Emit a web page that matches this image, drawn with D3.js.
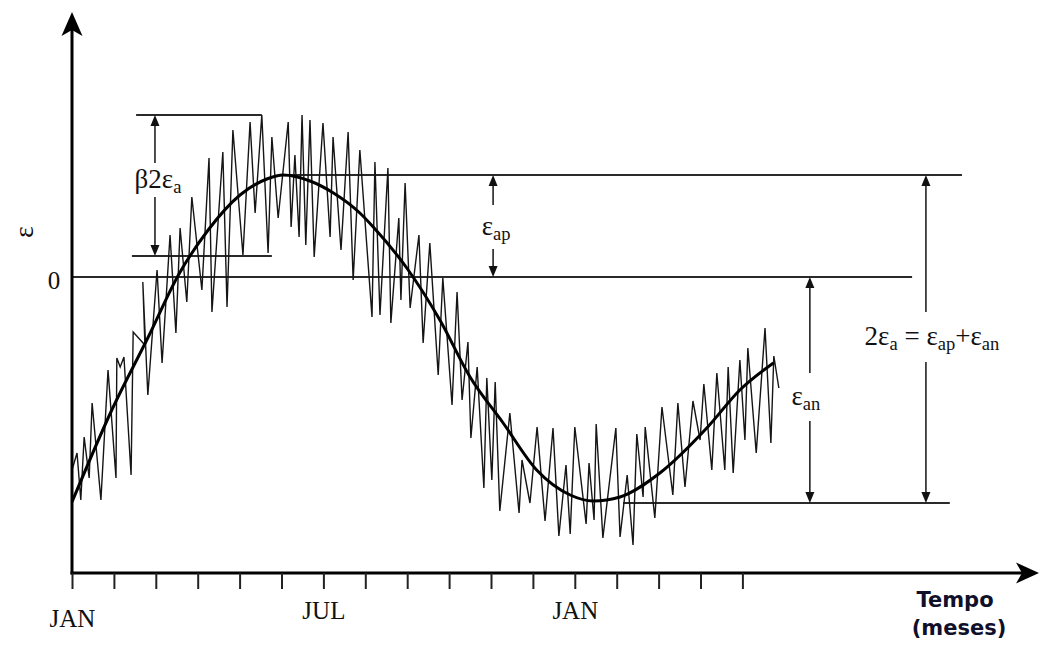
<!DOCTYPE html>
<html>
<head>
<meta charset="utf-8">
<script src="https://cdn.jsdelivr.net/npm/d3@7/dist/d3.min.js"></script>
<style>
    body { margin: 0; background: #fff; }
    #chart-view { width: 1040px; height: 651px; }
    text { font-family: "Liberation Serif", "DejaVu Serif", serif; fill: #111; }
    .axis-title { font-family: "DejaVu Sans", "Liberation Sans", sans-serif; font-weight: bold; fill: #10102a; }
</style>
</head>
<body>
<div id="chart-view"></div>
<script>
// x axis: months from the first January
var monthTicks = d3.range(0, 17);
var monthLabels = ["JAN", "", "", "", "", "", "JUL", "", "", "", "", "", "JAN", "", "", "", ""];

// smooth seasonal strain (mean curve)
var meanMonths = [0, 0.95, 1.82, 2.54, 3.25, 4.01, 4.65, 5.04, 5.68, 6.24, 6.87, 7.19, 7.99, 8.78,
    9.50, 10.29, 11.09, 11.89, 12.44, 13.08, 14.03, 15.15, 15.94, 16.74];
var meanValues = [-22.5, -13.3, -6.0, 0.2, 4.7, 8.2, 9.8, 10.2, 9.6, 8.4, 6.4, 5.0, 0.9, -4.3,
    -10.0, -14.6, -19.3, -21.8, -22.4, -22.0, -19.6, -15.1, -11.3, -8.6];

// daily strain (the zigzag)
var dailyMonths = [0.00, 0.12, 0.21, 0.29, 0.41, 0.48, 0.69, 0.86, 1.05, 1.07, 1.15, 1.24, 1.41, 1.46,
    1.74, 1.69, 1.81, 2.03, 2.15, 2.34, 2.48, 2.58, 2.74, 2.86, 3.10, 3.27, 3.34, 3.60, 3.70, 3.84,
    4.08, 4.25, 4.37, 4.53, 4.68, 4.77, 4.92, 5.16, 5.23, 5.32, 5.42, 5.49, 5.58, 5.68, 5.78, 5.99,
    6.16, 6.23, 6.42, 6.59, 6.71, 6.87, 7.16, 7.23, 7.35, 7.54, 7.61, 7.80, 7.85, 7.95, 8.07, 8.28,
    8.38, 8.54, 8.74, 8.85, 9.07, 9.19, 9.31, 9.45, 9.52, 9.67, 9.83, 9.90, 10.02, 10.10, 10.21,
    10.45, 10.67, 10.74, 10.93, 11.10, 11.29, 11.48, 11.62, 11.79, 11.89, 12.00, 12.27, 12.34,
    12.46, 12.51, 12.67, 12.98, 13.08, 13.25, 13.39, 13.48, 13.63, 13.68, 13.91, 14.08, 14.34,
    14.46, 14.63, 14.82, 14.99, 15.08, 15.27, 15.39, 15.58, 15.66, 15.78, 15.94, 16.06, 16.13,
    16.33, 16.54, 16.68, 16.75, 16.87];
var dailyValues = [-19.3, -17.6, -22.3, -16.0, -20.1, -12.6, -22.3, -9.3, -20.1, -8.1, -9.0, -8.0, -19.8, -5.5,
    -6.8, -0.5, -11.8, 0.7, -8.6, 4.2, -5.6, 4.9, -2.5, 8.0, -1.3, 11.9, -3.5, 12.5, -3.0, 14.7,
    2.2, 15.5, 6.4, 16.2, 2.4, 14.0, 5.9, 15.5, 5.0, 12.2, 4.0, 16.2, 3.2, 15.7, 2.0, 15.4,
    4.0, 14.0, 2.7, 14.5, -0.3, 12.7, -4.0, 11.5, -3.8, 10.9, -4.6, 5.9, -2.3, 9.4, -3.1, 4.2,
    -6.6, 3.4, -9.8, -0.1, -12.8, -1.5, -12.3, -6.5, -16.1, -9.0, -21.1, -10.1, -20.3, -10.5, -23.4,
    -13.6, -23.6, -18.3, -22.6, -15.0, -24.4, -15.1, -25.9, -18.8, -25.7, -15.0, -24.7, -18.6,
    -24.3, -14.7, -26.1, -15.1, -26.0, -19.8, -26.8, -15.7, -22.0, -15.0, -24.1, -13.0, -21.8,
    -12.6, -21.0, -12.4, -16.3, -10.7, -19.3, -9.6, -19.3, -9.0, -19.6, -8.3, -16.3, -7.1,
    -17.6, -5.1, -16.6, -7.9, -11.1];

// horizontal reference levels: value, first month, last month
var refValues = [10.2, 0, -22.6, 16.2, 2.1];
var refStart = [5.1, 0, 13.15, 1.53, 1.43];
var refEnd = [21.24, 20.05, 20.95, 4.53, 4.77];

// dimension arrows: month, from value, to value, label
var dimMonths = [1.98, 10.05, 17.61, 20.38];
var dimFrom = [16.2, 10.2, 0, 10.2];
var dimTo = [2.1, 0, -22.6, -22.6];
var dimLabels = [
    [["\u03B22\u03B5", 0], ["a", 1]],
    [["\u03B5", 0], ["ap", 1]],
    [["\u03B5", 0], ["an", 1]],
    [["2\u03B5", 0], ["a", 1], [" = \u03B5", 0], ["ap", 1], ["+\u03B5", 0], ["an", 1]]
];

/**
 * Chart with the seasonal strain cycle and its dimension marks
 */
function StrainChart() {
    var self = this;
    self.init();
}

StrainChart.prototype.init = function() {
    var self = this;
    self.width = 1040;
    self.height = 651;

    self.svg = d3.select("#chart-view").append("svg")
        .attr("width", self.width)
        .attr("height", self.height);

    self.x = d3.scaleLinear().domain([0, 16]).range([72, 742.4]);
    self.y = d3.scaleLinear().domain([-29.6, 26.4]).range([573, 13]);

    self.drawLevels();
    self.drawSeries();
    self.drawDimensions();
    self.drawAxes();
};

StrainChart.prototype.drawLevels = function() {
    var self = this;
    self.svg.append("g").selectAll("line")
        .data(refValues)
        .enter().append("line")
        .attr("x1", function(d, i) { return self.x(refStart[i]); })
        .attr("x2", function(d, i) { return self.x(refEnd[i]); })
        .attr("y1", function(d) { return self.y(d); })
        .attr("y2", function(d) { return self.y(d); })
        .attr("stroke", "#2a2a2a")
        .attr("stroke-width", 1.8);
};

StrainChart.prototype.drawSeries = function() {
    var self = this;
    var daily = dailyMonths.map(function(m, i) { return [m, dailyValues[i]]; });
    var mean = meanMonths.map(function(m, i) { return [m, meanValues[i]]; });

    var zig = d3.line()
        .x(function(d) { return self.x(d[0]); })
        .y(function(d) { return self.y(d[1]); });

    self.svg.append("path")
        .attr("d", zig(daily))
        .attr("fill", "none")
        .attr("stroke", "#151515")
        .attr("stroke-width", 1.4)
        .attr("stroke-linejoin", "miter");

    var smooth = d3.line()
        .curve(d3.curveMonotoneX)
        .x(function(d) { return self.x(d[0]); })
        .y(function(d) { return self.y(d[1]); });

    self.svg.append("path")
        .attr("d", smooth(mean))
        .attr("fill", "none")
        .attr("stroke", "#000")
        .attr("stroke-width", 3);
};

// writes a label made of normal and subscript parts
StrainChart.prototype.richText = function(g, parts, x, y, size, subSize) {
    var t = g.append("text")
        .attr("x", x)
        .attr("y", y)
        .attr("text-anchor", "middle")
        .style("font-size", size + "px");
    var down = false;
    parts.forEach(function(p) {
        var dy = 0;
        if (p[1] && !down) { dy = 5; down = true; }
        else if (!p[1] && down) { dy = -5; down = false; }
        t.append("tspan")
            .attr("dy", dy)
            .style("font-size", (p[1] ? subSize : size) + "px")
            .text(p[0]);
    });
    return t;
};

StrainChart.prototype.drawDimensions = function() {
    var self = this;
    var g = self.svg.append("g");
    // label centre (pixels from arrow), half gap around label
    var labelDx = [3, 3, -4, 6];
    var labelY = [180, 227, 397, 337];
    var gapHalf = [17, 22, 24, 25];

    function head(x, y, dir) {
        g.append("path")
            .attr("d", "M" + x + "," + y + "L" + (x - 4.5) + "," + (y + dir * 11) +
                "L" + (x + 4.5) + "," + (y + dir * 11) + "Z")
            .attr("fill", "#111");
    }

    dimMonths.forEach(function(m, i) {
        var x = self.x(m);
        var y1 = self.y(dimFrom[i]);
        var y2 = self.y(dimTo[i]);
        var c = labelY[i];
        g.append("line").attr("x1", x).attr("x2", x)
            .attr("y1", y1 + 6).attr("y2", c - gapHalf[i])
            .attr("stroke", "#222").attr("stroke-width", 1.6);
        g.append("line").attr("x1", x).attr("x2", x)
            .attr("y1", c + gapHalf[i]).attr("y2", y2 - 6)
            .attr("stroke", "#222").attr("stroke-width", 1.6);
        head(x, y1, 1);
        head(x, y2, -1);
        self.richText(g, dimLabels[i], x + labelDx[i], c + 8, 27, 18.5);
    });
};

StrainChart.prototype.drawAxes = function() {
    var self = this;
    var g = self.svg.append("g");
    var x0 = self.x(0);
    var yBase = self.y(-29.6);

    // axis lines with arrow heads
    g.append("line").attr("x1", x0).attr("x2", x0)
        .attr("y1", yBase + 1.5).attr("y2", 26)
        .attr("stroke", "#000").attr("stroke-width", 3);
    g.append("path")
        .attr("d", "M" + x0 + ",12L" + (x0 - 10.5) + ",36L" + x0 + ",30L" + (x0 + 10.5) + ",36Z")
        .attr("fill", "#000");

    g.append("line").attr("x1", x0 - 1.5).attr("x2", 1026)
        .attr("y1", yBase).attr("y2", yBase)
        .attr("stroke", "#000").attr("stroke-width", 3);
    g.append("path")
        .attr("d", "M1039," + yBase + "L1016," + (yBase - 10.5) + "L1022," + yBase +
            "L1016," + (yBase + 10.5) + "Z")
        .attr("fill", "#000");

    // month ticks
    var axis = d3.axisBottom(self.x)
        .tickValues(monthTicks)
        .tickSize(16)
        .tickSizeOuter(0)
        .tickPadding(12)
        .tickFormat(function(d, i) { return monthLabels[i]; });

    var ax = self.svg.append("g")
        .attr("transform", "translate(0," + yBase + ")")
        .call(axis);
    ax.select(".domain").remove();
    ax.selectAll(".tick line").attr("stroke", "#222").attr("stroke-width", 2);
    ax.selectAll(".tick text")
        .attr("font-family", null)
        .style("font-size", "25px")
        .attr("fill", "#111");
    ax.selectAll(".tick").filter(function(d) { return d === 0; })
        .select("text").attr("dy", "1.05em");

    // zero label and y title
    self.svg.append("text")
        .attr("x", 54).attr("y", self.y(0) + 12)
        .attr("text-anchor", "middle")
        .style("font-size", "25px")
        .text("0");

    self.svg.append("text")
        .attr("transform", "translate(33,232) rotate(-90)")
        .attr("text-anchor", "middle")
        .style("font-size", "28px")
        .text("\u03B5");

    var title = self.svg.append("text")
        .attr("class", "axis-title")
        .attr("text-anchor", "middle")
        .style("font-size", "21px");
    title.append("tspan").attr("x", 955).attr("y", 607).text("Tempo");
    title.append("tspan").attr("x", 959).attr("y", 635).text("(meses)");
};

var chart = new StrainChart();
</script>
</body>
</html>
